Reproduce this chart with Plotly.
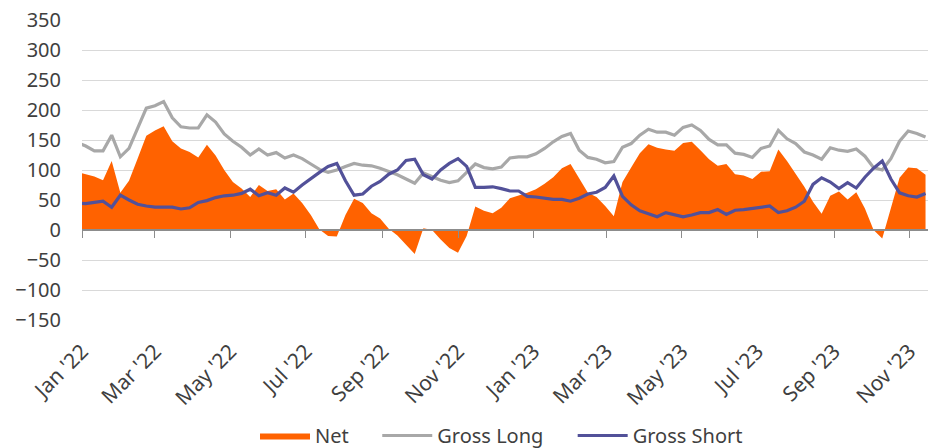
import plotly.graph_objects as go
import pandas as pd

dates = pd.date_range("2021-12-28", periods=99, freq="7D")

gross_long = [146, 140, 132, 132, 158, 122, 136, 168, 203, 207, 214, 187, 172, 170, 170, 192, 180, 160,
              148, 138, 125, 135, 125, 129, 120, 125, 119, 110, 101, 96, 100, 106, 111, 108, 107, 103,
              98, 92, 85, 78, 95, 89, 83, 79, 82, 96, 110, 104, 102, 105, 120, 122, 122, 127, 136, 147,
              156, 161, 133, 121, 118, 112, 114, 138, 144, 158, 168, 163, 163, 158, 171, 175, 166, 151,
              142, 142, 128, 126, 121, 136, 140, 166, 152, 144, 130, 125, 118, 137, 133, 131, 135, 123,
              104, 100, 119, 148, 165, 161, 155]

gross_short = [45, 44, 46, 48, 38, 58, 50, 43, 40, 38, 38, 38, 35, 37, 46, 49, 54, 57, 58, 61, 68, 57,
               62, 58, 70, 63, 75, 86, 96, 106, 111, 82, 58, 60, 73, 81, 93, 100, 116, 118, 92, 85, 100,
               111, 119, 106, 71, 71, 72, 69, 65, 65, 56, 55, 53, 51, 51, 48, 53, 60, 63, 71, 90, 56, 42,
               32, 27, 22, 29, 25, 22, 25, 29, 29, 34, 26, 33, 34, 36, 38, 40, 29, 32, 38, 48, 76, 87, 80,
               69, 79, 70, 88, 103, 115, 85, 62, 57, 55, 61]

net = [97, 93, 89, 83, 115, 62, 82, 119, 157, 166, 173, 148, 136, 130, 121, 142, 124, 100, 80, 69, 55,
       75, 65, 68, 51, 61, 45, 25, 1, -10, -11, 25, 52, 45, 28, 19, 2, -9, -25, -40, 3, 0, -16, -30, -38,
       -10, 39, 32, 28, 37, 53, 57, 62, 68, 77, 88, 103, 110, 85, 62, 55, 40, 23, 80, 104, 128, 143, 137,
       134, 132, 145, 147, 133, 118, 107, 110, 93, 91, 85, 97, 98, 134, 115, 94, 72, 47, 27, 57, 64, 51,
       63, 36, 0, -14, 38, 87, 104, 103, 92]

tick_dates = ["2022-01-01", "2022-03-01", "2022-05-01", "2022-07-01", "2022-09-01", "2022-11-01",
              "2023-01-01", "2023-03-01", "2023-05-01", "2023-07-01", "2023-09-01", "2023-11-01"]
tick_text = ["Jan '22", "Mar '22", "May '22", "Jul '22", "Sep '22", "Nov '22",
             "Jan '23", "Mar '23", "May '23", "Jul '23", "Sep '23", "Nov '23"]
y_ticks = [-150, -100, -50, 0, 50, 100, 150, 200, 250, 300, 350]

ORANGE = "#FF6200"
GREY = "#A8A8A8"
PURPLE = "#525199"
TEXT = "#3F3F3F"
AXIS = "#8C8C8C"
FONT = "Noto Sans"

x_range = ["2022-01-01", "2023-11-16"]

fig = go.Figure()
fig.add_trace(go.Scatter(x=dates, y=net, name="Net", mode="lines", fill="tozeroy",
                         fillcolor=ORANGE, line=dict(color=ORANGE, width=0), hoverinfo="skip",
                         legend="legend"))
fig.add_trace(go.Scatter(x=dates, y=gross_long, name="Gross Long", mode="lines",
                         line=dict(color=GREY, width=3.2), hoverinfo="skip", legend="legend2"))
fig.add_trace(go.Scatter(x=dates, y=gross_short, name="Gross Short", mode="lines",
                         line=dict(color=PURPLE, width=3.2), hoverinfo="skip", legend="legend3"))
# invisible helper so the zero-line axis (ticks at y=0) is drawn
fig.add_trace(go.Scatter(x=tick_dates, y=[None] * len(tick_dates), xaxis="x2", yaxis="y",
                         mode="lines", showlegend=False, hoverinfo="skip"))

legend_common = dict(orientation="h", yanchor="middle", y=-0.385, xanchor="left", itemwidth=50,
                     font=dict(family=FONT, size=20, color=TEXT), bgcolor="rgba(0,0,0,0)")

fig.update_layout(
    width=938, height=448,
    margin=dict(l=82, r=10, t=20, b=128, autoexpand=False),
    paper_bgcolor="white", plot_bgcolor="white",
    font=dict(family=FONT, size=20, color=TEXT),
    showlegend=True,
    legend=dict(x=0.2045, **legend_common),
    legend2=dict(x=0.349, **legend_common),
    legend3=dict(x=0.580, **legend_common),
    xaxis=dict(type="date", range=x_range, tickvals=tick_dates, ticktext=tick_text,
               tickangle=-45, showgrid=False, showline=False, ticks="", zeroline=False,
               automargin=False, ticklabelstandoff=14,
               tickfont=dict(family=FONT, size=21, color=TEXT)),
    xaxis2=dict(type="date", range=x_range, overlaying="x", anchor="free", position=0.3,
                side="bottom", tickvals=tick_dates, showticklabels=False, ticks="outside",
                ticklen=7, tickwidth=1.3, tickcolor=AXIS, showline=True, automargin=False,
                linecolor=AXIS, linewidth=1.5, showgrid=False, zeroline=False),
    yaxis=dict(range=[-150, 350], tickvals=y_ticks, showgrid=True, gridcolor="#D9D9D9",
               gridwidth=1.3, zeroline=False, showline=False, ticks="", automargin=False,
               ticklabelstandoff=20,
               tickfont=dict(family=FONT, size=20, color=TEXT)),
)

fig.write_html("out.html", config={"displayModeBar": False},
               post_script="document.body.style.margin='0px';document.body.style.overflow='hidden';")
